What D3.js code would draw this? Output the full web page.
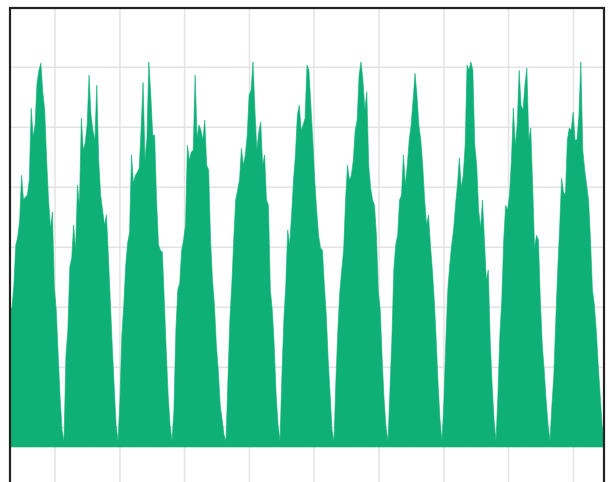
<!DOCTYPE html>
<html>
<head>
<meta charset="utf-8">
<script src="https://cdn.jsdelivr.net/npm/d3@7"></script>
<style>
  html, body { margin: 0; padding: 0; background: #fff; }
  svg { display: block; }
</style>
</head>
<body>
<div id="chart"></div>
<script>
// Weekly load profile: 11 weeks, one reading every 6 hours (28 per week),
// values. The series closes on a final
// trough reading at hour 1848.
const HOURS_PER_STEP = 6;
const STEPS_PER_WEEK = 28;

const week01 = [228, 232, 270, 337, 350, 378, 453, 412, 417, 420, 445, 565, 517, 537, 607, 628, 640, 592, 562, 478, 412, 365, 392, 265, 228, 153, 82, 28];
const week02 = [10, 153, 195, 300, 315, 370, 328, 437, 403, 548, 495, 507, 537, 620, 553, 528, 512, 603, 478, 420, 395, 370, 387, 320, 245, 170, 103, 37];
const week03 = [10, 78, 187, 237, 303, 340, 358, 487, 440, 453, 458, 465, 532, 608, 478, 515, 642, 587, 520, 520, 412, 337, 328, 325, 245, 162, 87, 37];
const week04 = [10, 62, 195, 262, 273, 328, 345, 370, 503, 478, 492, 495, 620, 515, 537, 528, 512, 545, 470, 462, 345, 278, 237, 170, 128, 70, 45, 20];
const week05 = [10, 112, 212, 270, 345, 412, 428, 445, 498, 470, 487, 520, 587, 595, 642, 562, 495, 525, 542, 470, 487, 412, 403, 262, 228, 170, 87, 37];
const week06 = [10, 120, 212, 270, 362, 337, 387, 445, 487, 553, 570, 528, 537, 548, 637, 628, 570, 512, 445, 395, 353, 332, 328, 270, 220, 145, 87, 28];
const week07 = [10, 112, 195, 258, 295, 328, 412, 470, 445, 453, 478, 528, 545, 620, 642, 612, 562, 592, 470, 432, 412, 403, 353, 258, 228, 145, 78, 32];
const week08 = [10, 95, 178, 295, 337, 353, 412, 420, 487, 437, 470, 512, 537, 578, 623, 587, 537, 512, 470, 412, 370, 387, 337, 295, 245, 178, 103, 45];
const week09 = [10, 78, 178, 262, 303, 337, 362, 403, 437, 482, 432, 453, 503, 637, 628, 642, 628, 503, 470, 395, 365, 412, 345, 278, 295, 178, 103, 45];
const week10 = [10, 87, 187, 245, 345, 403, 395, 420, 478, 565, 503, 537, 628, 570, 562, 603, 632, 512, 532, 437, 332, 353, 345, 245, 170, 128, 78, 37];
const week11 = [10, 70, 120, 212, 295, 365, 448, 425, 420, 512, 532, 528, 558, 512, 512, 553, 642, 495, 462, 437, 412, 345, 262, 237, 195, 137, 87, 37];
const finalReading = 10;

const weeks = [week01, week02, week03, week04, week05, week06, week07, week08, week09, week10, week11];

// gridline positions (hours / load units), no labels shown in the chart
const xGridHours = [140, 342, 543, 745, 946, 1148, 1350, 1551, 1753];
const yGridValues = [33, 133, 233, 333, 433, 533, 633];

const series = [];
weeks.forEach((w, wi) => {
  w.forEach((v, i) => {
    series.push({ hour: (wi * STEPS_PER_WEEK + i) * HOURS_PER_STEP, value: v });
  });
});
series.push({ hour: weeks.length * STEPS_PER_WEEK * HOURS_PER_STEP, value: finalReading });

const W = 614, H = 482;
const box = { left: 10, top: 8, right: 604, bottom: 520 };

const svg = d3.select('#chart').append('svg')
  .attr('width', W)
  .attr('height', H);

const x = d3.scaleLinear()
  .domain([0, weeks.length * STEPS_PER_WEEK * HOURS_PER_STEP])
  .range([box.left, box.right]);

const y = d3.scaleLinear()
  .domain([0, 732])
  .range([447, box.top]);

const grid = svg.append('g').attr('class', 'grid');

grid.selectAll('line.vx')
  .data(xGridHours)
  .join('line')
  .attr('class', 'vx')
  .attr('x1', (d) => x(d)).attr('x2', (d) => x(d))
  .attr('y1', box.top).attr('y2', box.bottom)
  .attr('stroke', '#e3e3e3')
  .attr('stroke-width', 1.5);

grid.selectAll('line.hy')
  .data(yGridValues)
  .join('line')
  .attr('class', 'hy')
  .attr('x1', box.left).attr('x2', box.right)
  .attr('y1', (d) => y(d)).attr('y2', (d) => y(d))
  .attr('stroke', '#e3e3e3')
  .attr('stroke-width', 1.5);

const area = d3.area()
  .x((d) => x(d.hour))
  .y0(y(0))
  .y1((d) => y(d.value));

svg.append('path')
  .datum(series)
  .attr('d', area)
  .attr('fill', '#0fb077')
  .attr('stroke', '#0fb077')
  .attr('stroke-width', 0.6)
  .attr('stroke-linejoin', 'miter');

svg.append('rect')
  .attr('x', box.left)
  .attr('y', box.top)
  .attr('width', box.right - box.left)
  .attr('height', box.bottom - box.top)
  .attr('fill', 'none')
  .attr('stroke', '#222')
  .attr('stroke-width', 2.2);
</script>
</body>
</html>
